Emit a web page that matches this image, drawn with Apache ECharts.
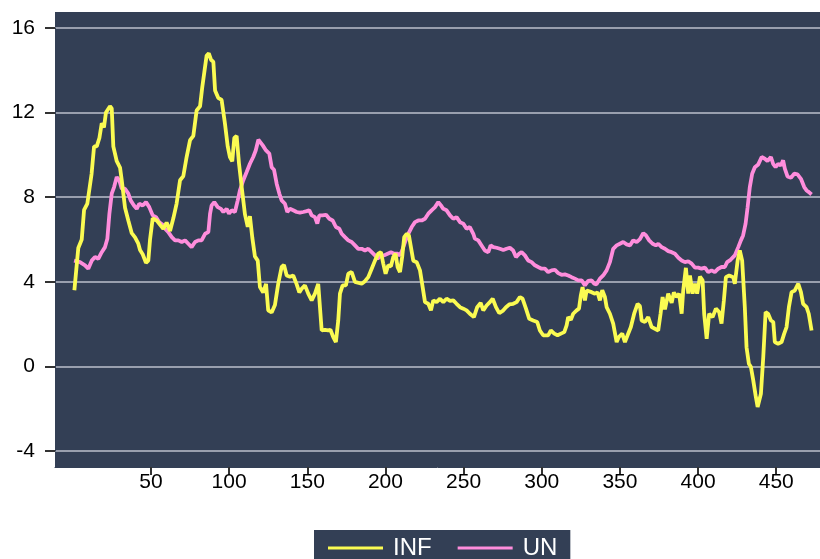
<!DOCTYPE html>
<html><head><meta charset="utf-8">
<script src="https://cdn.jsdelivr.net/npm/echarts@6/dist/echarts.min.js"></script>
<style>html,body{margin:0;padding:0;background:#fff}#c{width:820px;height:559px}</style>
</head><body><div id="c"></div>
<script>
const xTicks = [50, 100, 150, 200, 250, 300, 350, 400, 450];
const yTicks = [-4, 0, 4, 8, 12, 16];
const seriesNames = ['INF', 'UN'];

const infX = [1,3.5,5.7,7.2,9.3,12,13.6,15.3,17,18.5,19.9,21.2,23.8,24.9,25.9,28.1,30.2,31.3,33.4,35.5,37.7,39.8,41.9,43,44.7,46.8,48.3,49.4,51.1,53.7,57.9,60,62.2,64.3,66.4,68.6,70.7,72.8,75,77.1,79.2,81.4,82.8,84.1,85.6,87,88.4,89.9,91,93,95.2,97.3,99.1,100.5,102,103.3,104.8,106.3,108,110.1,111.9,113.3,114.8,116.5,118.3,119.7,121.8,123.6,125,127.2,129.3,131.4,133.6,135.1,136.8,138.9,141,143.1,144.9,146.4,148.5,150.6,152.8,154.9,157,158.1,159.2,161.3,163.4,164.8,166.6,168.3,169.8,170.9,172.6,174.7,176.2,178.4,180.5,181.6,184.8,186.9,189,191.2,193.3,195.4,197.1,198.6,200.1,201.8,203.5,205,206.5,207.8,209.3,210.7,212,213.6,215,216.3,217.8,220,222.1,223.8,225.3,227.4,229.1,230.6,232.7,234.9,237,239.1,241.3,243.4,245.5,247.7,249.8,251.9,254,256.6,258.7,260.9,262.6,264.7,266.8,268.6,270.7,272.8,275,277.1,279.2,281.7,283.9,286,287.7,289.9,292,294.5,297.1,298.8,300.9,302,304.1,305.8,308,310.1,312.3,314.4,315.9,316.9,318.6,320.1,322.3,323.8,325,326.1,327.6,328.7,329.8,331.9,334,335.7,337.2,338.7,340.4,341.5,343.6,345.7,347.9,349.3,351.5,353.2,354.9,357,359.1,361.3,362.8,363.9,366,368.1,370.3,372.4,374.5,376,377.3,378.8,380.9,383.1,384.5,386.3,387.9,389.5,390.5,392.2,393.7,394.8,396.5,398,399.4,401.2,402.9,403.9,405.5,407.1,409.3,411.4,413.5,415,416.5,417.8,419.9,422.5,423.5,425.3,426.7,428.2,429.9,431,432.5,433.8,435.3,436.8,438.1,438.8,440.2,441.7,443.2,444.8,446.6,448.1,449.1,451.2,453.4,455.1,456.6,458.1,459.8,461.9,464.1,465.8,467.2,469.4,470.8,472.6];
const infY = [3.6,5.6,6.0,7.4,7.7,9.1,10.4,10.4,10.8,11.5,11.3,12.0,12.3,12.2,10.4,9.7,9.4,8.8,7.5,6.9,6.3,6.1,5.8,5.5,5.3,4.9,5.0,6.0,7.0,6.9,6.5,6.8,6.4,7.0,7.7,8.8,9.0,9.9,10.7,10.9,12.1,12.3,13.2,13.9,14.7,14.8,14.5,14.4,13.05,12.7,12.6,11.5,10.4,9.9,9.7,10.8,10.9,9.6,8.5,7.2,6.6,7.1,6.1,5.2,5.0,3.75,3.5,3.9,2.65,2.55,2.9,3.9,4.7,4.8,4.3,4.24,4.3,3.9,3.5,3.67,3.83,3.44,3.12,3.44,3.9,2.8,1.7,1.73,1.7,1.73,1.39,1.15,2.17,3.44,3.83,3.83,4.38,4.46,4.0,3.91,3.91,4.03,4.22,4.62,5.0,5.33,5.4,4.86,4.38,4.78,4.73,5.17,5.33,4.69,4.46,5.17,6.11,6.27,6.2,5.64,5.0,4.93,4.54,3.75,3.04,2.96,2.65,3.12,3.04,3.2,3.04,3.2,3.1,3.12,2.96,2.8,2.73,2.65,2.49,2.33,2.8,3.0,2.65,2.88,3.04,3.2,2.8,2.52,2.62,2.8,2.93,2.96,3.04,3.28,3.2,2.73,2.25,2.17,2.1,1.7,1.47,1.39,1.47,1.7,1.55,1.47,1.55,1.62,1.94,2.33,2.2,2.49,2.65,2.73,3.36,3.75,3.12,3.59,3.6,3.51,3.44,3.5,3.12,3.6,3.28,2.8,2.49,2.02,1.15,1.39,1.55,1.15,1.47,1.86,2.49,2.96,2.85,2.17,2.1,2.33,1.86,1.78,1.7,2.49,3.28,2.7,3.44,3.0,3.5,3.28,3.44,2.49,3.59,4.66,3.44,4.3,3.44,3.91,3.44,4.25,4.07,2.49,1.31,2.49,2.33,2.73,2.57,2.02,3.12,4.22,4.3,4.22,3.91,5.0,5.48,5.0,2.8,0.91,0.13,-0.03,-0.66,-1.37,-1.92,-2.0,-1.29,0.44,2.57,2.49,2.17,2.1,1.15,1.07,1.15,1.55,1.86,2.8,3.51,3.59,3.91,3.51,2.96,2.8,2.49,1.7];

const unX = [0.8,4.6,7.8,9.9,12.1,14.2,16.3,18.5,20.6,22.1,23.4,24.9,26.4,28.1,29.7,31.3,33.4,35.5,37,39.1,40.9,42.5,44.7,46.8,48.9,51.1,53.2,55.3,57.9,59,61.1,63.3,65.4,67.5,69.7,71.8,73.9,76,78.2,80.3,82.4,84.6,86.7,87.8,88.8,90.5,92.7,94.8,96.3,98.4,99.9,101.6,103.7,105.5,106.9,109,111.2,113.3,115.4,117,118.7,119.7,121.5,123.6,125.7,127.2,128.7,130.4,132.1,133.6,135.7,137.2,138.9,141,143.2,145.3,147.4,149.6,151.3,152.8,154.9,156.4,157.7,159.8,162,164.1,166.2,168.3,170.5,172,174.1,176.2,178.4,180.5,182.6,184.8,186.9,189,191.2,193.3,195,197.1,199.2,201.4,203.5,205.6,207.8,209.3,210.7,212.5,214.6,216.8,218.9,221,223.2,225.3,227.4,229.5,231.7,233.8,235.5,237,239.1,241.3,243.4,245.5,247.7,249.8,251.9,254,256.2,257.2,259.4,261.5,263.6,265.8,267.3,269,271.1,273.2,275.4,277.5,279.6,281.7,283.5,285.6,287.1,289.2,291.3,293.5,295.6,297.7,299.9,302,304.1,306.3,308.4,310.5,312.7,314.8,316.9,319.1,321.2,323.3,325.5,327.6,329.7,331.9,333.5,335,337.2,339.3,341.5,343.6,345.7,347.9,350,352.1,354.3,356.4,358.5,360.7,362.8,364.9,366.6,368.7,370.9,373,374.5,376.7,378.8,380.9,383.1,385.2,387.4,389.5,391.6,393.7,395.9,398,400.1,402.2,404.4,406.5,408.6,410.7,412.9,415,417.1,418.6,420.8,423.5,425.7,427.4,428.8,430.4,431.7,433.1,434.6,436.3,438.5,440.7,442.7,444.4,446.6,448,449.6,451.2,452.9,454.4,455.5,457.2,459.4,461.5,463.6,465.8,467.9,469.4,470.9,472.6];
const unY = [5.0,4.93,4.78,4.62,5.0,5.17,5.09,5.4,5.64,6.04,7.22,8.17,8.48,8.95,8.8,8.4,8.4,8.17,7.85,7.61,7.45,7.69,7.61,7.77,7.53,7.14,7.06,6.82,6.67,6.51,6.35,6.11,5.96,5.96,5.88,5.96,5.8,5.64,5.88,5.96,5.96,6.27,6.35,7.22,7.61,7.77,7.53,7.45,7.3,7.45,7.22,7.38,7.3,7.85,8.32,8.79,9.19,9.58,9.9,10.21,10.72,10.76,10.45,10.21,10.06,9.42,9.3,8.64,8.17,7.85,7.69,7.3,7.45,7.38,7.3,7.27,7.3,7.34,7.38,7.14,7.06,6.75,7.14,7.14,7.17,6.98,6.9,6.59,6.51,6.27,6.11,5.96,5.88,5.72,5.56,5.56,5.48,5.56,5.4,5.25,5.09,5.25,5.25,5.33,5.4,5.33,5.33,5.25,5.48,5.88,6.27,6.59,6.82,6.9,6.9,6.98,7.22,7.38,7.53,7.77,7.61,7.45,7.38,7.14,6.98,7.06,6.82,6.75,6.51,6.59,6.27,6.04,5.96,5.72,5.48,5.4,5.72,5.64,5.61,5.56,5.5,5.56,5.61,5.48,5.17,5.33,5.4,5.25,5.01,4.93,4.78,4.7,4.62,4.62,4.46,4.54,4.57,4.41,4.33,4.35,4.3,4.22,4.15,4.07,4.07,3.83,4.04,4.07,3.91,3.88,4.15,4.3,4.54,4.93,5.56,5.72,5.8,5.88,5.77,5.72,5.96,5.88,6.02,6.3,6.2,5.96,5.8,5.72,5.8,5.64,5.56,5.45,5.4,5.33,5.14,5.01,4.93,4.97,4.86,4.67,4.67,4.62,4.67,4.46,4.54,4.46,4.62,4.7,4.7,4.93,5.04,5.25,5.64,5.96,6.19,6.75,7.53,8.48,9.11,9.42,9.55,9.9,9.82,9.71,9.9,9.58,9.42,9.58,9.5,9.74,9.35,8.98,8.92,9.11,9.08,8.87,8.48,8.32,8.24,8.13];

const zip = (xs, ys) => xs.map((x, i) => [x, ys[i]]);
const FONT = "'Liberation Sans', Arial, sans-serif";
const BG = '#333f55';
const chart = echarts.init(document.getElementById('c'), null, {renderer: 'canvas'});
chart.setOption({
  animation: false,
  backgroundColor: '#ffffff',
  graphic: [{type: 'rect', z: -10, silent: true, shape: {x: 55, y: 12, width: 765, height: 455}, style: {fill: BG}}],
  grid: {left: 55, right: 0, top: 28, bottom: 108},
  xAxis: {
    type: 'value', min: -11.4, max: 478, offset: 16,
    axisLine: {show: true, onZero: false, lineStyle: {color: BG, width: 1}},
    axisTick: {show: true, length: 8, customValues: xTicks, lineStyle: {color: '#333', width: 2}},
    axisLabel: {customValues: xTicks, color: '#000', fontSize: 21, fontFamily: FONT, margin: 5},
    splitLine: {show: false}
  },
  yAxis: {
    type: 'value', min: yTicks[0], max: yTicks[yTicks.length - 1], interval: 4,
    axisLine: {show: true, onZero: false, lineStyle: {color: BG, width: 1}},
    axisTick: {show: true, length: 10, lineStyle: {color: '#333', width: 2}},
    axisLabel: {color: '#000', fontSize: 21, fontFamily: FONT, margin: 20},
    splitLine: {show: true, lineStyle: {color: '#bcc0cc', width: 1.5}}
  },
  legend: {
    data: seriesNames, left: 314, top: 530, orient: 'horizontal',
    backgroundColor: BG, padding: [6, 13, 12, 14], itemGap: 26,
    itemWidth: 55, itemHeight: 3, icon: 'rect',
    textStyle: {color: '#ffffff', fontSize: 24, fontFamily: FONT, padding: [0, 0, 0, 5]}
  },
  series: [
    {name: seriesNames[0], type: 'line', data: zip(infX, infY), showSymbol: false, symbol: 'none', clip: false,
     lineStyle: {color: '#fbfb52', width: 3.8}, itemStyle: {color: '#fbfb52'}, z: 3},
    {name: seriesNames[1], type: 'line', data: zip(unX, unY), showSymbol: false, symbol: 'none', clip: false,
     lineStyle: {color: '#ff8ddc', width: 3.8}, itemStyle: {color: '#ff8ddc'}, z: 2}
  ]
});
</script></body></html>
